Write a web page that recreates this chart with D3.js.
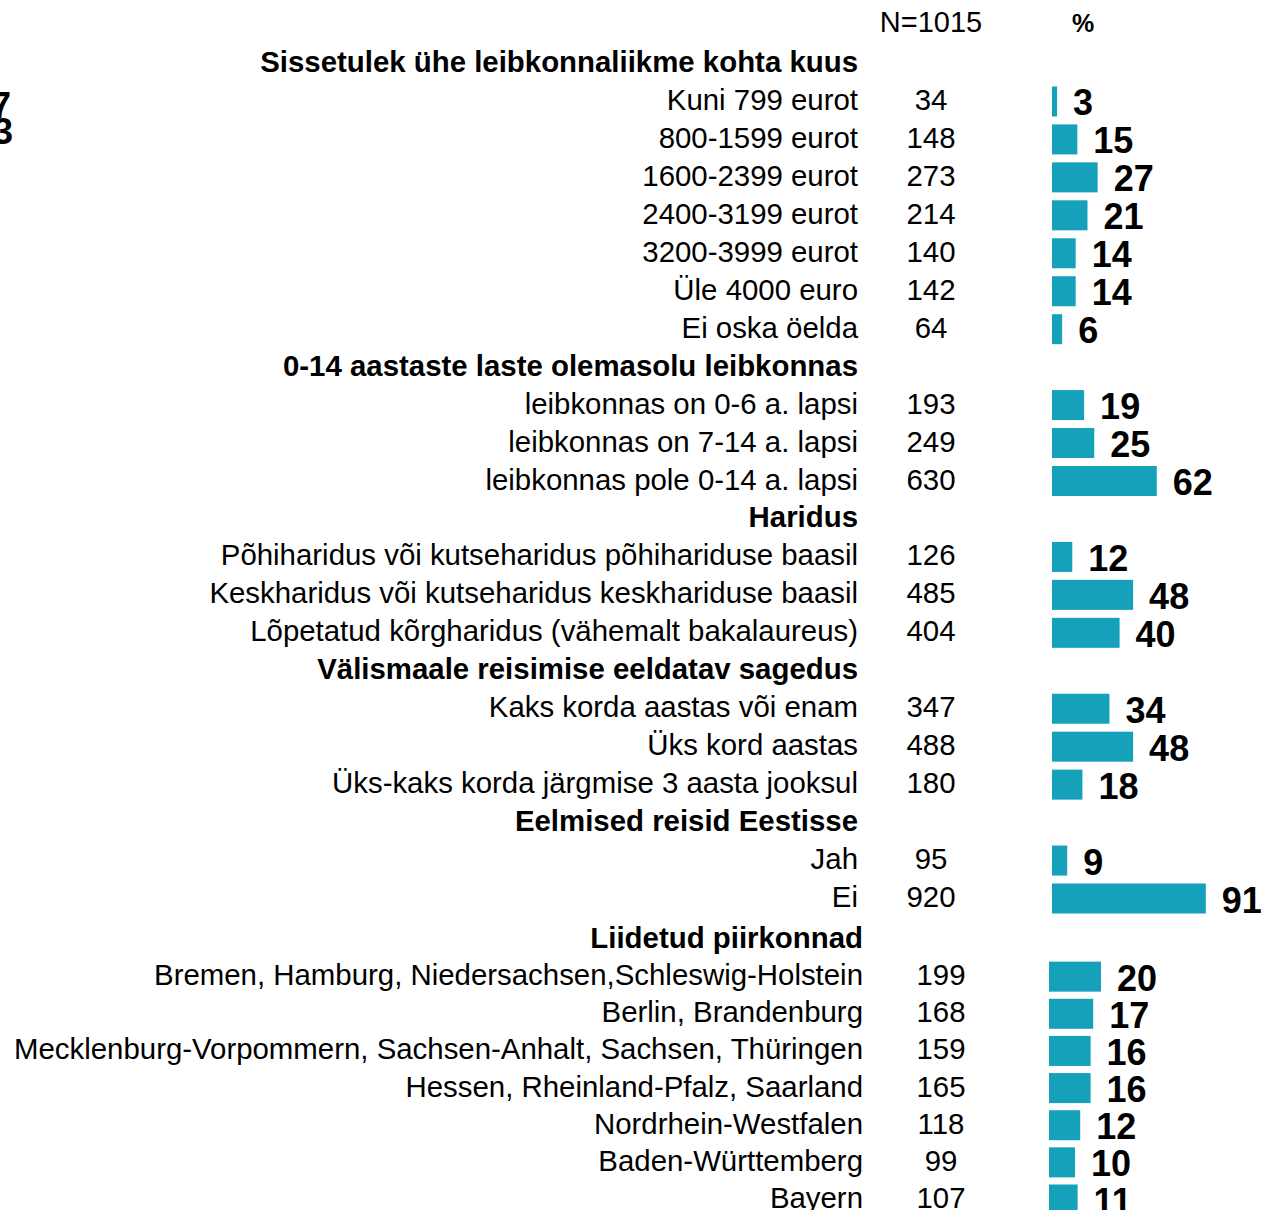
<!DOCTYPE html>
<html><head><meta charset="utf-8">
<script src="https://cdn.jsdelivr.net/npm/d3@7"></script>
<style>
html,body{margin:0;padding:0;background:#fff;overflow:hidden;}
svg text{font-family:"Liberation Sans",Arial,sans-serif;fill:#000;}
</style></head>
<body>
<svg id="chart" width="1263" height="1210"></svg>
<script>
// ---- data ----
const headers = [
  "Sissetulek ühe leibkonnaliikme kohta kuus",
  "0-14 aastaste laste olemasolu leibkonnas",
  "Haridus",
  "Välismaale reisimise eeldatav sagedus",
  "Eelmised reisid Eestisse",
  "Liidetud piirkonnad"
];
const incomeLabels = ["Kuni 799 eurot","800-1599 eurot","1600-2399 eurot","2400-3199 eurot","3200-3999 eurot","Üle 4000 euro","Ei oska öelda"];
const incomeN = [34,148,273,214,140,142,64];
const incomePct = [3,15,27,21,14,14,6];
const kidsLabels = ["leibkonnas on 0-6 a. lapsi","leibkonnas on 7-14 a. lapsi","leibkonnas pole 0-14 a. lapsi"];
const kidsN = [193,249,630];
const kidsPct = [19,25,62];
const eduLabels = ["Põhiharidus või kutseharidus põhihariduse baasil","Keskharidus või kutseharidus keskhariduse baasil","Lõpetatud kõrgharidus (vähemalt bakalaureus)"];
const eduN = [126,485,404];
const eduPct = [12,48,40];
const travelLabels = ["Kaks korda aastas või enam","Üks kord aastas","Üks-kaks korda järgmise 3 aasta jooksul"];
const travelN = [347,488,180];
const travelPct = [34,48,18];
const prevLabels = ["Jah","Ei"];
const prevN = [95,920];
const prevPct = [9,91];
const regionLabels = ["Bremen, Hamburg, Niedersachsen,Schleswig-Holstein","Berlin, Brandenburg","Mecklenburg-Vorpommern, Sachsen-Anhalt, Sachsen, Thüringen","Hessen, Rheinland-Pfalz, Saarland","Nordrhein-Westfalen","Baden-Württemberg","Bayern"];
const regionN = [199,168,159,165,118,99,107];
const regionPct = [20,17,16,16,12,10,11];
const totalLabel = "N=1015";
const pctHeader = "%";
const strayDigits = ["7","3"];

// ---- build rows ----
const topGroups = [
  [headers[0], incomeLabels, incomeN, incomePct],
  [headers[1], kidsLabels, kidsN, kidsPct],
  [headers[2], eduLabels, eduN, eduPct],
  [headers[3], travelLabels, travelN, travelPct],
  [headers[4], prevLabels, prevN, prevPct]
];
const topRows = [];
topGroups.forEach(([h, labs, ns, ps]) => {
  topRows.push({type:"h", label:h});
  labs.forEach((l,i)=>topRows.push({type:"r", label:l, n:ns[i], p:ps[i]}));
});
const botRows = [{type:"h", label:headers[5]}];
regionLabels.forEach((l,i)=>botRows.push({type:"r", label:l, n:regionN[i], p:regionPct[i]}));

const svg = d3.select("#chart");
const FS = 29.4;
const COLOR = "#14a1b9";

function drawBlock(rows, cfg){
  const y = d3.scalePoint().domain(d3.range(rows.length)).range(cfg.yRange);
  const x = d3.scaleLinear().domain([0,100]).range([cfg.x0, cfg.x0 + cfg.pxPer100]);
  const g = svg.append("g");
  rows.forEach((r,i)=>{
    const cy = y(i);
    g.append("text").attr("x", cfg.labelX).attr("y", cy + 10)
      .attr("text-anchor","end").style("font-size",FS+"px")
      .style("font-weight", r.type==="h" ? "bold" : "normal")
      .text(r.label);
    if(r.type==="r"){
      g.append("text").attr("x", cfg.nX).attr("y", cy + 10)
        .attr("text-anchor","middle").style("font-size",FS+"px").text(r.n);
      g.append("rect").attr("x", x(0)).attr("y", cy + 1.5 - 15)
        .attr("width", x(r.p) - x(0)).attr("height", 30).attr("fill", COLOR);
      g.append("text").attr("x", x(r.p) + 16).attr("y", cy + 1.5 + 14)
        .style("font-size","36px").style("font-weight","bold").text(r.p);
    }
  });
}

drawBlock(topRows, {yRange:[62, 897], x0:1052, pxPer100:169, labelX:858, nX:931});
drawBlock(botRows, {yRange:[938, 1198], x0:1049, pxPer100:260, labelX:863, nX:941});

svg.append("text").attr("x", 931).attr("y", 32).attr("text-anchor","middle")
  .style("font-size","29px").text(totalLabel);
svg.append("text").attr("x", 1083).attr("y", 32).attr("text-anchor","middle")
  .style("font-size","25px").style("font-weight","bold").text(pctHeader);

// partially visible digits at the left edge
svg.append("text").attr("x", 11).attr("y", 118).attr("text-anchor","end")
  .style("font-size","36px").style("font-weight","bold").text(strayDigits[0]);
svg.append("text").attr("x", 13).attr("y", 144).attr("text-anchor","end")
  .style("font-size","36px").style("font-weight","bold").text(strayDigits[1]);
</script>
</body></html>
